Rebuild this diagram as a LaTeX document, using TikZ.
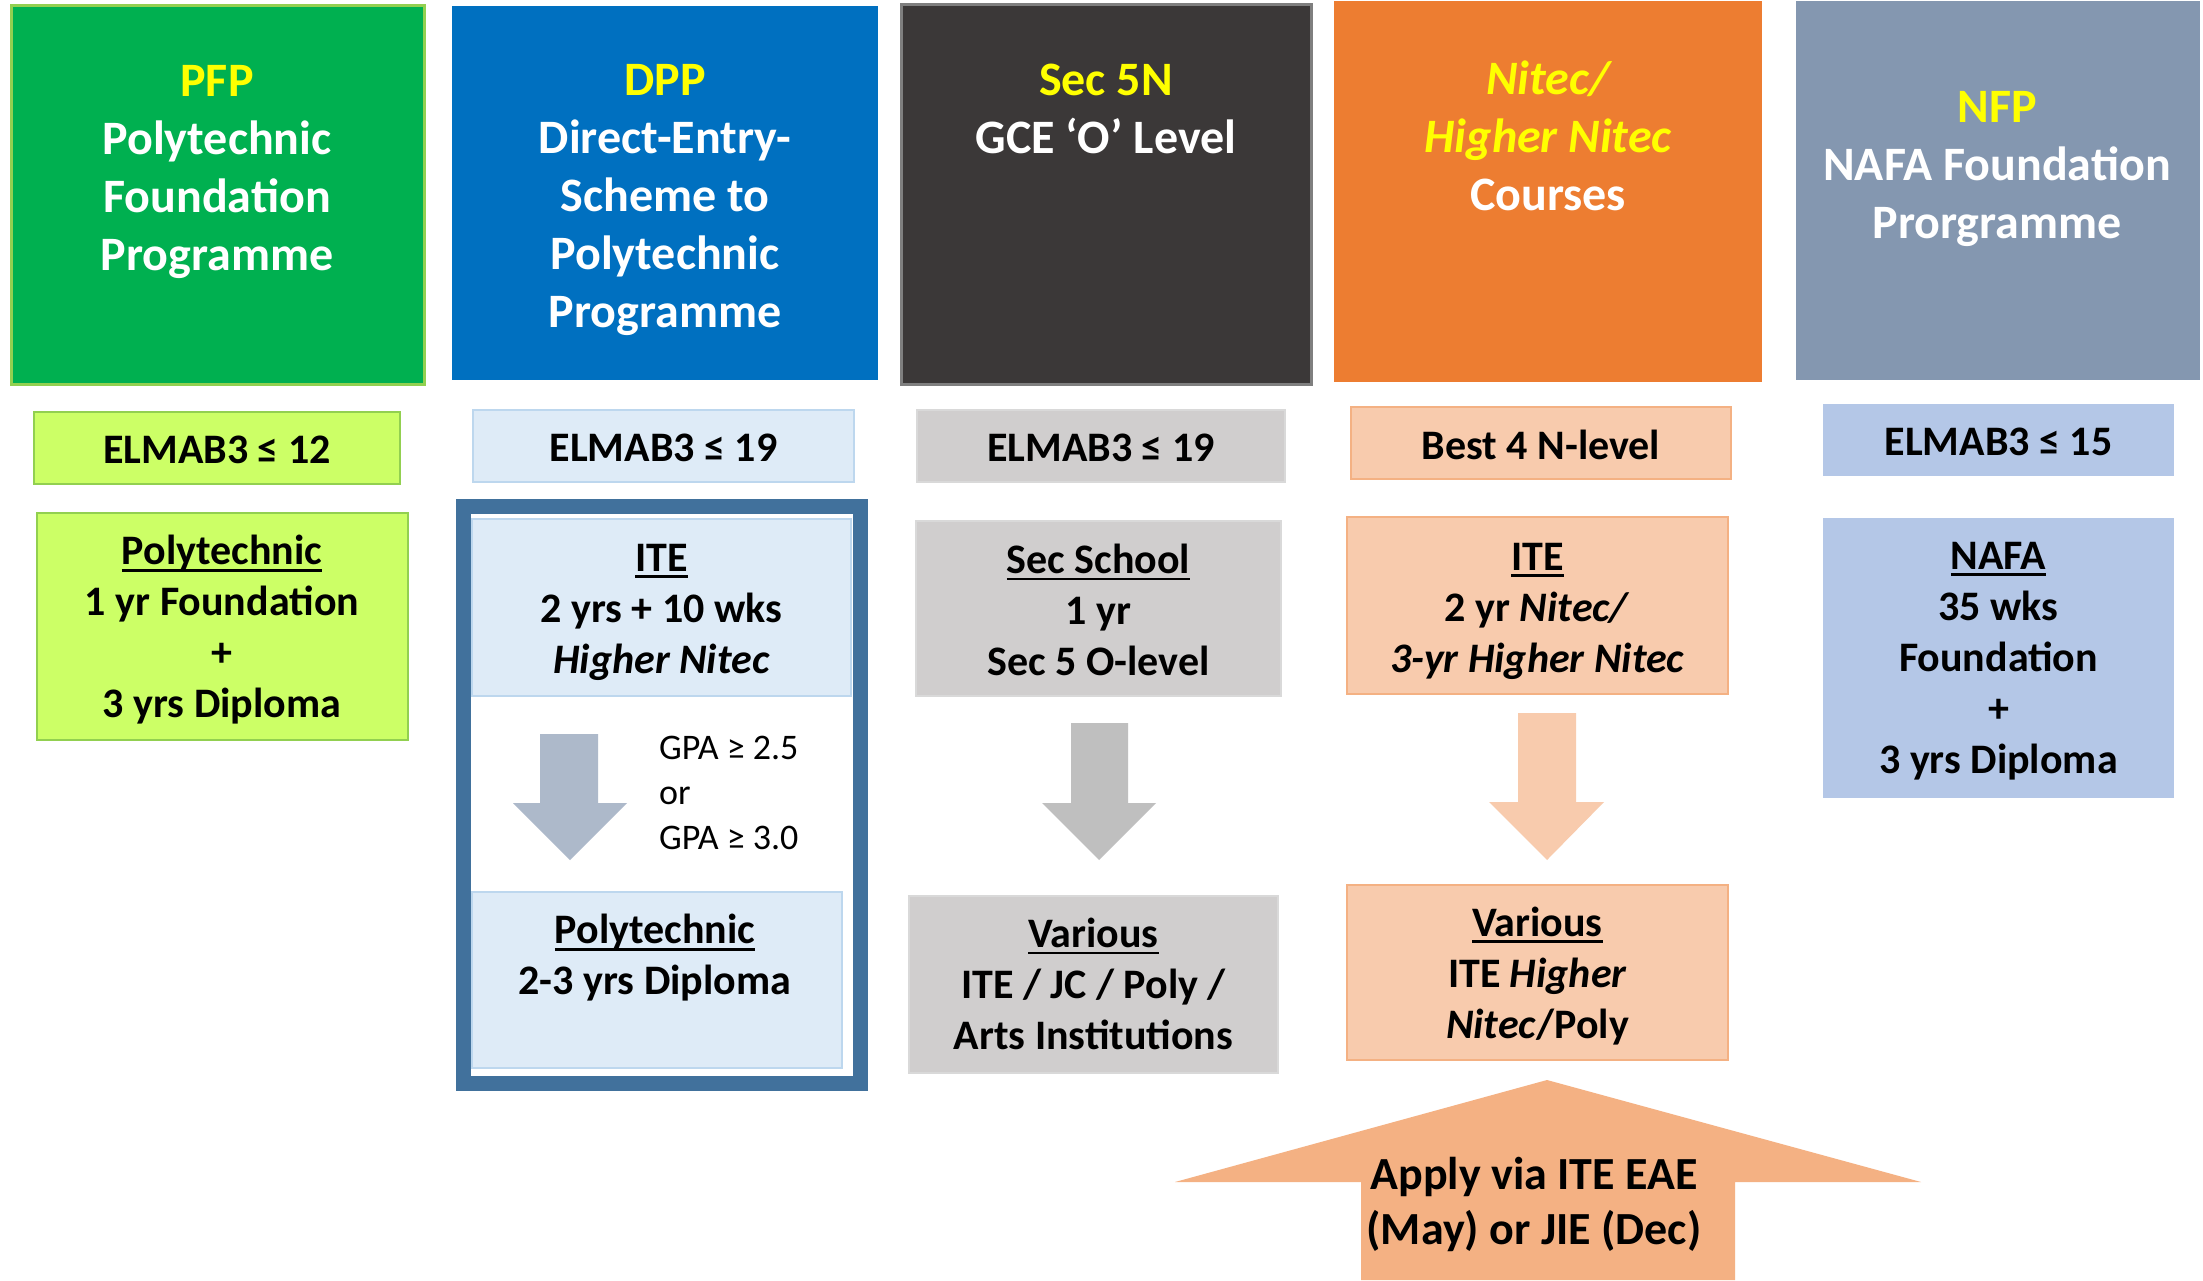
\documentclass[tikz,border=0pt]{standalone}
\usepackage{fontspec}
\setmainfont{Carlito}
\newcommand\myul[1]{\setbox0\hbox{#1}\rlap{\rule[-0.16em]{\wd0}{0.065em}}\box0}
\definecolor{pfpg}{HTML}{00B050}
\definecolor{lgreen}{HTML}{92D050}
\definecolor{lime}{HTML}{CCFF66}
\definecolor{dppb}{HTML}{0070C0}
\definecolor{lblue}{HTML}{DEEBF7}
\definecolor{lblueb}{HTML}{BDD7EE}
\definecolor{dark}{HTML}{3B3838}
\definecolor{darkb}{HTML}{7F7F7F}
\definecolor{lgray}{HTML}{D0CECE}
\definecolor{lgrayb}{HTML}{D9D9D9}
\definecolor{orng}{HTML}{ED7D31}
\definecolor{peach}{HTML}{F8CBAD}
\definecolor{peachb}{HTML}{F4B183}
\definecolor{nfpc}{HTML}{8497B0}
\definecolor{nafac}{HTML}{B4C7E7}
\definecolor{steel}{HTML}{41719C}
\definecolor{arrb}{HTML}{ADB9CA}
\definecolor{arrg}{HTML}{BFBFBF}
\definecolor{yel}{HTML}{FFFF00}
\begin{document}
\begin{tikzpicture}[x=1pt,y=-1pt,
  bx/.style={rectangle, inner sep=0pt, outer sep=0pt},
  ttl/.style={align=center, inner sep=0pt, text=white, font=\bfseries\fontsize{48}{58}\selectfont},
  txt/.style={align=center, inner sep=0pt, text=black, font=\bfseries\fontsize{42}{51}\selectfont},
  gpa/.style={align=left, inner sep=0pt, text=black, font=\fontsize{36}{45}\selectfont},
  apply/.style={align=center, inner sep=0pt, text=black, font=\bfseries\fontsize{46}{55}\selectfont}]
\useasboundingbox (0,0) rectangle (2203,1280);
\fill[white] (0,0) rectangle (2203,1280);

% top header boxes
\node[bx, fill=pfpg, draw=lgreen, line width=3pt, minimum width=413pt, minimum height=379pt] (pfp) at (217.5,194.5) {};
\node[bx, fill=dppb, minimum width=426pt, minimum height=374pt] (dpp) at (665,193) {};
\node[bx, fill=dark, draw=darkb, line width=3pt, minimum width=410pt, minimum height=380pt] (sec) at (1106,194) {};
\node[bx, fill=orng, minimum width=428pt, minimum height=381pt] (nit) at (1548,191.5) {};
\node[bx, fill=nfpc, minimum width=404pt, minimum height=379pt] (nfp) at (1998,190.5) {};

\node[ttl] (pfpt) at (217,172) {\textcolor{yel}{PFP}\\Polytechnic\\Foundation\\Programme};
\node[ttl] (dppt) at (665,200) {\textcolor{yel}{DPP}\\Direct-Entry-\\Scheme to\\Polytechnic\\Programme};
\node[ttl] (sect) at (1106,109) {\textcolor{yel}{Sec 5N}\\GCE ‘O’ Level};
\node[ttl] (nitt) at (1548,136) {\textcolor{yel}{\itshape Nitec/}\\\textcolor{yel}{\itshape Higher Nitec}\\Courses};
\node[ttl] (nfpt) at (1997,169) {\textcolor{yel}{NFP}\\NAFA Foundation\\Prorgramme};

% requirement row
\node[bx, fill=lime, draw=lgreen, line width=2pt, minimum width=366pt, minimum height=72pt] (e12) at (217,448) {};
\node[bx, fill=lblue, draw=lblueb, line width=2pt, minimum width=381pt, minimum height=72pt] (e19a) at (663.5,446) {};
\node[bx, fill=lgray, draw=lgrayb, line width=2pt, minimum width=368pt, minimum height=72pt] (e19b) at (1101,446) {};
\node[bx, fill=peach, draw=peachb, line width=2pt, minimum width=380pt, minimum height=72pt] (best) at (1541,443) {};
\node[bx, fill=nafac, minimum width=351pt, minimum height=72pt] (e15) at (1998.5,440) {};

\node[txt] (e12t) at ([yshift=-2pt]e12) {ELMAB3 ≤ 12};
\node[txt] (e19at) at ([yshift=-2pt]e19a) {ELMAB3 ≤ 19};
\node[txt] (e19bt) at ([yshift=-2pt]e19b) {ELMAB3 ≤ 19};
\node[txt] (bestt) at ([yshift=-2pt]best) {Best 4 N-level};
\node[txt] (e15t) at ([yshift=-2pt]e15) {ELMAB3 ≤ 15};

% DPP outline frame
\draw[steel, line width=15pt] (463.5,506.5) rectangle (860.5,1083.5);

% programme boxes
\node[bx, fill=lime, draw=lgreen, line width=2pt, minimum width=371pt, minimum height=227pt] (polyf) at (222.5,626.5) {};
\node[bx, fill=lblue, draw=lblueb, line width=2pt, minimum width=379pt, minimum height=177pt] (ite1) at (661.5,607.5) {};
\node[bx, fill=lblue, draw=lblueb, line width=2pt, minimum width=370pt, minimum height=176pt] (poly2) at (657,980) {};
\node[bx, fill=lgray, draw=lgrayb, line width=2pt, minimum width=365pt, minimum height=175pt] (secsch) at (1098.5,608.5) {};
\node[bx, fill=peach, draw=peachb, line width=2pt, minimum width=381pt, minimum height=177pt] (ite2) at (1537.5,605.5) {};
\node[bx, fill=nafac, minimum width=351pt, minimum height=280pt] (nafa) at (1998.5,658) {};
\node[bx, fill=lgray, draw=lgrayb, line width=2pt, minimum width=369pt, minimum height=177pt] (var1) at (1093.5,984.5) {};
\node[bx, fill=peach, draw=peachb, line width=2pt, minimum width=381pt, minimum height=175pt] (var2) at (1537.5,972.5) {};

\node[txt] (polyft) at (222,630) {\myul{Polytechnic}\\1 yr Foundation\\+\\3 yrs Diploma};
\node[txt] (ite1t) at (661.5,612) {\myul{ITE}\\2 yrs + 10 wks\\\textit{Higher Nitec}};
\node[txt] (poly2t) at (655,958) {\myul{Polytechnic}\\2-3 yrs Diploma};
\node[txt] (secscht) at (1098.5,610) {\myul{Sec School}\\1 yr\\Sec 5 O-level};
\node[txt] (ite2t) at (1537.5,611) {\myul{ITE}\\2 yr \textit{Nitec/}\\\textit{3-yr Higher Nitec}};
\node[txt] (nafat) at (1998.5,661) {\myul{NAFA}\\35 wks\\Foundation\\+\\3 yrs Diploma};
\node[txt] (var1t) at (1093.5,984) {\myul{Various}\\ITE / JC / Poly /\\Arts Institutions};
\node[txt] (var2t) at (1537.5,976) {\myul{Various}\\ITE \textit{Higher}\\\textit{Nitec}/Poly};

% GPA text
\node[gpa, anchor=west] (gpat) at (659,793) {GPA ≥ 2.5\\or\\GPA ≥ 3.0};

% block arrows
\fill[arrb] (540,734) -- (598,734) -- (598,803) -- (627,803) -- (570,860) -- (513,803) -- (540,803) -- cycle;
\fill[arrg] (1071,723) -- (1128,723) -- (1128,803) -- (1156,803) -- (1099,860) -- (1042,803) -- (1071,803) -- cycle;
\fill[peach] (1518,713) -- (1576,713) -- (1576,802) -- (1604,802) -- (1547,860) -- (1489,802) -- (1518,802) -- cycle;
\fill[peachb] (1547,1080) -- (1921,1182) -- (1735,1182) -- (1735,1280) -- (1361,1280) -- (1361,1182) -- (1175,1182) -- cycle;

\node[apply] (applyt) at (1534,1204) {Apply via ITE EAE\\(May) or JIE (Dec)};
\end{tikzpicture}
\end{document}
